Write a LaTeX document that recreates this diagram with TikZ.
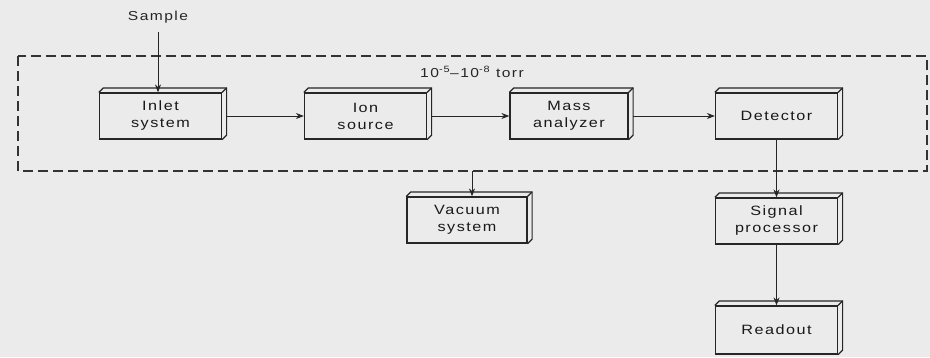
\documentclass[tikz,border=0pt]{standalone}
\usepackage{fontspec}
\setmainfont{Liberation Sans}[FakeStretch=1.2,LetterSpace=11]
\usetikzlibrary{arrows.meta}
\newcommand\depthbox[1]{%
  \draw[ln] (#1.north west) -- ([shift={(4.5pt,4.5pt)}]#1.north west)
    -- ([shift={(4.5pt,4.5pt)}]#1.north east)
    -- ([shift={(4.5pt,4.5pt)}]#1.south east) -- (#1.south east);
  \draw[ln] (#1.north east) -- ([shift={(4.5pt,4.5pt)}]#1.north east);}
\begin{document}
\begin{tikzpicture}[x=1pt,y=-1pt,
  ln/.style={draw=black!85, line width=1.2pt},
  blk/.style={ln, fill=black!8, minimum width=122pt, minimum height=46pt,
    inner sep=0pt, align=center, text=black!90, font=\fontsize{13.5}{17}\selectfont},
  arr/.style={draw=black!85, line width=1pt, -{Stealth[length=8pt,width=6pt]}},
  lbl/.style={text=black!85, font=\fontsize{13}{15}\selectfont, inner sep=1pt},
  vac/.style={draw=black!80, line width=1.1pt, dash pattern=on 10pt off 5pt}]
\useasboundingbox (0,0) rectangle (930,357);
\fill[black!8] (0,0) rectangle (930,357);
% dashed enclosure
\draw[vac] (18,56) rectangle (927,171);
\node[lbl] (torr) at (472,72) {10\textsuperscript{-5}--10\textsuperscript{-8} torr};
\node[lbl] (sample) at (158,17) {Sample};
% blocks
\node[blk] (inlet) at (160.5,116) {Inlet\\system};
\node[blk] (ion) at (365.5,116) {Ion\\source};
\node[blk, minimum width=118pt] (mass) at (569,116) {Mass\\analyzer};
\node[blk] (det) at (776.5,116) {Detector};
\node[blk, minimum width=120pt] (vacs) at (467,220) {Vacuum\\system};
\node[blk] (sp) at (776.5,221) {Signal\\processor};
\node[blk, minimum height=48pt] (ro) at (776.5,330) {Readout};
\foreach \n in {inlet,ion,mass,det,vacs,sp,ro} {\depthbox{\n}}
% connectors
\coordinate (vtop) at (472,171);
\draw[arr] ([yshift=-8pt]sample.south) -- (sample.south |- inlet.north);
\draw[arr] ([xshift=4.5pt]inlet.east) -- (ion.west);
\draw[arr] ([xshift=4.5pt]ion.east) -- (mass.west);
\draw[arr] ([xshift=4.5pt]mass.east) -- (det.west);
\draw[arr] (vtop) -- (vtop |- vacs.north);
\draw[arr] (det.south) -- (sp.north);
\draw[arr] (sp.south) -- (ro.north);
\end{tikzpicture}
\end{document}
